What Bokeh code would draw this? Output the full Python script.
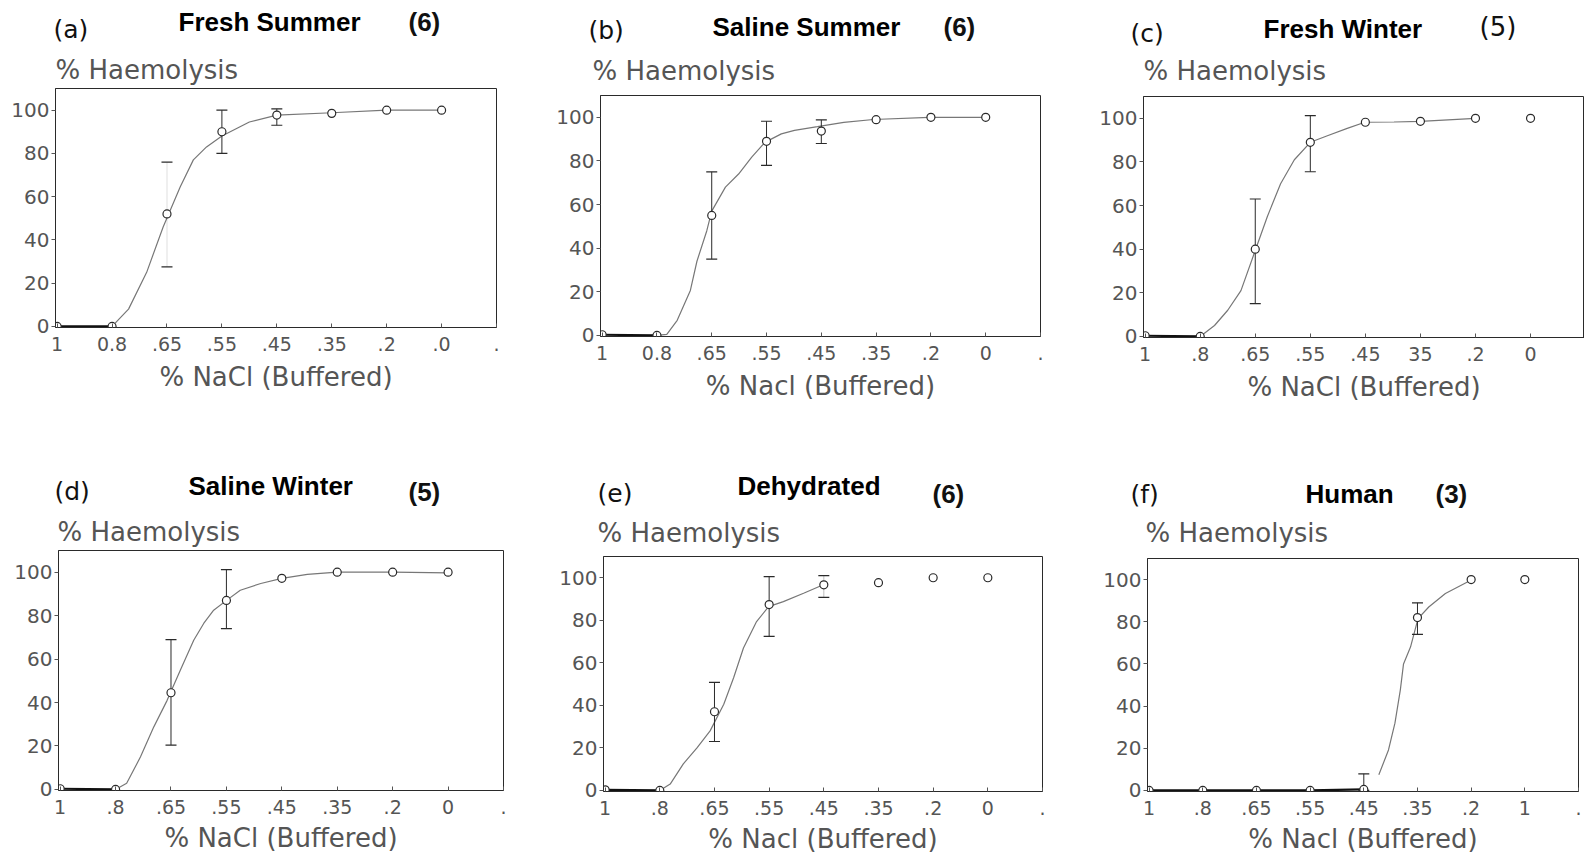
from bokeh.plotting import figure
from bokeh.models import FixedTicker, Range1d
from bokeh.layouts import column, row
from bokeh.core.properties import value
from bokeh.embed import file_html
from bokeh.resources import INLINE

# ---------------- data ----------------
tick_positions = [0, 1, 2, 3, 4, 5, 6, 7, 8]
point_x = [0, 1, 2, 3, 4, 5, 6, 7]

ticks_a = ["1", "0.8", ".65", ".55", ".45", ".35", ".2", ".0", "."]
ticks_b = ["1", "0.8", ".65", ".55", ".45", ".35", ".2", "0", "."]
ticks_c = ["1", ".8", ".65", ".55", ".45", "35", ".2", "0", "."]
ticks_d = ["1", ".8", ".65", ".55", ".45", ".35", ".2", "0", "."]
ticks_e = ["1", ".8", ".65", ".55", ".45", ".35", ".2", "0", "."]
ticks_f = ["1", ".8", ".65", ".55", ".45", ".35", ".2", "1", "."]

# mean % haemolysis at each concentration
y_a = [0, 0, 52, 90, 97.7, 98.5, 100, 100]
y_b = [0.3, 0, 55, 89, 93.7, 98.9, 100, 100]
y_c = [0.3, 0, 40, 89, 98.2, 98.6, 100, 100]
y_d = [0.3, 0, 44.5, 87, 97.2, 100, 100, 100]
y_e = [0.3, 0, 37, 87.4, 96.7, 97.7, 100, 100]
y_f = [0, 0, 0, 0, 0.5, 82, 100, 100]

# error bars (index, lower, upper)
err_x_a = [2, 3, 4]
err_lo_a = [27.5, 80, 93]
err_hi_a = [76, 100, 100.6]
err_x_b = [2, 3, 4]
err_lo_b = [35, 78, 88]
err_hi_b = [75, 98.2, 98.8]
err_x_c = [2, 3]
err_lo_c = [15, 75.5]
err_hi_c = [63, 101.2]
err_x_d = [2, 3]
err_lo_d = [20.4, 74]
err_hi_d = [69, 101.2]
err_x_e = [2, 3, 4]
err_lo_e = [23, 72.4, 90.8]
err_hi_e = [50.8, 100.5, 101]
err_x_f = [4, 5]
err_lo_f = [0, 74]
err_hi_f = [7.9, 89]

# fitted curves
curve_x_a = [1, 1.3, 1.63, 1.93, 2.24, 2.48, 2.72, 3, 3.5, 4, 5, 6, 7]
curve_y_a = [0, 8, 25, 46, 64.5, 77, 83, 88, 94.5, 97.7, 98.8, 100, 100]
curve_x_b = [1, 1.18, 1.37, 1.61, 1.73, 1.91, 2.0, 2.25, 2.49, 2.73, 2.97, 3.27, 3.51, 3.93, 4.41, 4.95, 5.97, 6.98]
curve_y_b = [0, 0.5, 6.9, 20.6, 34, 48, 57, 68, 74, 81.7, 88.5, 92.4, 94, 95.7, 97.7, 99, 100, 100]
curve_x_c = [1, 1.26, 1.5, 1.74, 1.98, 2.22, 2.46, 2.71, 3.0, 3.31, 3.67, 3.99, 4.52, 5.0, 6.0]
curve_y_c = [0, 5, 12, 21, 38, 55, 70, 81, 89, 92, 95.4, 98.2, 98.3, 98.6, 100]
curve_x_d = [1, 1.2, 1.45, 1.69, 1.93, 2.17, 2.41, 2.59, 2.77, 2.99, 3.25, 3.62, 4.0, 4.46, 5.0, 6.0, 7.0]
curve_y_d = [0, 2.8, 15, 28.8, 41, 55, 68.7, 76.4, 82.5, 86.8, 91.7, 94.8, 97.2, 99, 100, 100, 99.7]
curve_x_e = [1, 1.19, 1.43, 1.68, 1.92, 2.17, 2.35, 2.53, 2.77, 2.99, 3.26, 3.63, 3.98]
curve_y_e = [0, 3, 12.5, 20, 28, 40.5, 53, 67, 79.4, 86.4, 88.8, 92.7, 96.6]
curve_x_f = [4.28, 4.46, 4.58, 4.68, 4.74, 4.87, 5.01, 5.21, 5.52, 6.02]
curve_y_f = [7.4, 19.2, 31.9, 47.6, 60, 68, 81.5, 87, 93.4, 100]

# number of leading points joined by the dark flat line
flat_n = {"a": 2, "b": 2, "c": 2, "d": 2, "e": 2, "f": 5}

# header texts
letters = ["(a)", "(b)", "(c)", "(d)", "(e)", "(f)"]
names = ["Fresh Summer", "Saline Summer", "Fresh Winter", "Saline Winter", "Dehydrated", "Human"]
sizes_n = ["(6)", "(6)", "(5)", "(5)", "(6)", "(3)"]
n_bold = [True, True, False, True, True, True]
x_labels = ["% NaCl (Buffered)", "% Nacl (Buffered)", "% NaCl (Buffered)",
            "% NaCl (Buffered)", "% Nacl (Buffered)", "% Nacl (Buffered)"]
y_label = "% Haemolysis"

# ---------------- layout (pixels) ----------------
PAGE_W = 1584
HEAD1_H, HEAD2_H = 87, 121
ROW1_H, ROW2_H = 341, 307
# header text anchor positions (x, y) for letter, name, n, y-label
head_pos = [
    [(53, 29), (178, 21), (408, 21), (55, 69)],
    [(588, 30), (712, 26), (943, 26), (592, 70)],
    [(1130, 33), (1263, 28), (1479, 26), (1143, 70)],
    [(54, 63), (188, 57), (408, 63), (57, 103)],
    [(597, 65), (737, 57), (932, 65), (597, 104)],
    [(1130, 66), (1305, 65), (1435, 65), (1145, 104)],
]

panels = [
    dict(key="a", ticks=ticks_a, y=y_a, ex=err_x_a, elo=err_lo_a, ehi=err_hi_a,
         stem_alpha=[0.15, 1, 1], cx=curve_x_a, cy=curve_y_a,
         w=548, h=ROW1_H, mbl=55, mbr=52, mbt=1, mbb=101, xend=8.0),
    dict(key="b", ticks=ticks_b, y=y_b, ex=err_x_b, elo=err_lo_b, ehi=err_hi_b,
         stem_alpha=[1, 1, 1], cx=curve_x_b, cy=curve_y_b,
         w=540, h=ROW1_H, mbl=52, mbr=48, mbt=8, mbb=92, xend=8.0),
    dict(key="c", ticks=ticks_c, y=y_c, ex=err_x_c, elo=err_lo_c, ehi=err_hi_c,
         stem_alpha=[1, 1], cx=curve_x_c, cy=curve_y_c,
         w=496, h=ROW1_H, mbl=55, mbr=0, mbt=9, mbb=91, xend=7.98),
    dict(key="d", ticks=ticks_d, y=y_d, ex=err_x_d, elo=err_lo_d, ehi=err_hi_d,
         stem_alpha=[1, 1], cx=curve_x_d, cy=curve_y_d,
         w=548, h=ROW2_H, mbl=58, mbr=45, mbt=1, mbb=66, xend=8.0),
    dict(key="e", ticks=ticks_e, y=y_e, ex=err_x_e, elo=err_lo_e, ehi=err_hi_e,
         stem_alpha=[1, 1, 0.3], cx=curve_x_e, cy=curve_y_e,
         w=540, h=ROW2_H, mbl=55, mbr=46, mbt=7, mbb=65, xend=8.0),
    dict(key="f", ticks=ticks_f, y=y_f, ex=err_x_f, elo=err_lo_f, ehi=err_hi_f,
         stem_alpha=[1, 1], cx=curve_x_f, cy=curve_y_f,
         w=496, h=ROW2_H, mbl=59, mbr=6, mbt=9, mbb=64, xend=8.0),
]

INK = "#2a2a2a"
GREY = "#555555"


def no_align(fig):
    try:
        fig.frame_align = False
    except Exception:
        pass


def make_header(idx, height):
    h = figure(width=PAGE_W, height=height, output_backend="svg",
               toolbar_location=None, title_location=None,
               x_range=Range1d(0, PAGE_W), y_range=Range1d(height, 0),
               x_axis_location=None, y_axis_location=None, min_border=0)
    no_align(h)
    h.outline_line_color = None
    h.xgrid.visible = False
    h.ygrid.visible = False
    h.background_fill_color = "white"
    h.border_fill_color = "white"
    for i in idx:
        (lx, ly), (tx, ty), (nx, ny), (hx, hy) = head_pos[i]
        h.text(x=[lx], y=[ly], text=[letters[i]], text_font=value("DejaVu Sans"),
               text_font_size="25px", text_color="#111111", text_baseline="alphabetic")
        h.text(x=[tx], y=[ty], text=[names[i]], text_font=value("Liberation Sans"),
               text_font_style="bold", text_font_size="26px", text_color="#000000",
               text_baseline="alphabetic")
        h.text(x=[nx], y=[ny], text=[sizes_n[i]],
               text_font=value("Liberation Sans" if n_bold[i] else "DejaVu Sans"),
               text_font_style="bold" if n_bold[i] else "normal",
               text_font_size="26px", text_color="#111111", text_baseline="alphabetic")
        h.text(x=[hx], y=[hy], text=[y_label], text_font=value("DejaVu Sans"),
               text_font_size="26px", text_color=GREY, text_baseline="alphabetic")
    return h


def make_panel(i, c):
    top_row = i < 3
    p = figure(width=c["w"], height=c["h"], output_backend="svg",
               toolbar_location=None, title_location=None,
               x_range=Range1d(-0.03, c["xend"]), y_range=Range1d(-0.5, 110),
               min_border=0)
    no_align(p)
    p.min_border_left = c["mbl"]
    p.min_border_right = c["mbr"]
    p.min_border_top = c["mbt"]
    p.min_border_bottom = c["mbb"]
    p.background_fill_color = "white"
    p.border_fill_color = "white"
    p.outline_line_color = INK
    p.outline_line_width = 1
    p.xgrid.visible = False
    p.ygrid.visible = False

    xa = p.xaxis[0]
    xa.ticker = FixedTicker(ticks=tick_positions)
    xa.major_label_overrides = {t: s for t, s in zip(tick_positions, c["ticks"])}
    xa.major_tick_in = 4
    xa.major_tick_out = 0
    xa.minor_tick_line_color = None
    xa.axis_line_color = INK
    xa.major_tick_line_color = GREY
    xa.major_label_text_font = "DejaVu Sans"
    xa.major_label_text_font_size = "19px"
    xa.major_label_text_color = GREY
    xa.major_label_standoff = 9
    xa.axis_label = x_labels[i]
    xa.axis_label_text_font = "DejaVu Sans"
    xa.axis_label_text_font_size = "26px"
    xa.axis_label_text_font_style = "normal"
    xa.axis_label_text_color = GREY
    xa.axis_label_standoff = 8 if top_row else 6

    ya = p.yaxis[0]
    ya.ticker = FixedTicker(ticks=[0, 20, 40, 60, 80, 100])
    ya.major_tick_in = 0
    ya.major_tick_out = 4
    ya.minor_tick_line_color = None
    ya.axis_line_color = INK
    ya.major_tick_line_color = GREY
    ya.major_label_text_font = "DejaVu Sans"
    ya.major_label_text_font_size = "20px"
    ya.major_label_text_color = GREY
    ya.major_label_standoff = 2

    p.line(c["cx"], c["cy"], line_color="#777777", line_width=1.2)
    k = flat_n[c["key"]]
    p.line(point_x[:k], c["y"][:k], line_color="#111111", line_width=2.2)

    p.segment(x0=c["ex"], y0=c["elo"], x1=c["ex"], y1=c["ehi"],
              line_color=INK, line_width=1, line_alpha=c["stem_alpha"])
    p.scatter(c["ex"], c["elo"], marker="dash", size=11, line_color=INK, line_width=1.2)
    p.scatter(c["ex"], c["ehi"], marker="dash", size=11, line_color=INK, line_width=1.2)

    p.scatter(point_x, c["y"], marker="circle", size=8, fill_color="white",
              line_color=INK, line_width=1.2)
    return p


mains = [make_panel(i, c) for i, c in enumerate(panels)]
layout = column(make_header([0, 1, 2], HEAD1_H),
                row(mains[0], mains[1], mains[2]),
                make_header([3, 4, 5], HEAD2_H),
                row(mains[3], mains[4], mains[5]))

open("out.html", "w").write(file_html(layout, INLINE))
